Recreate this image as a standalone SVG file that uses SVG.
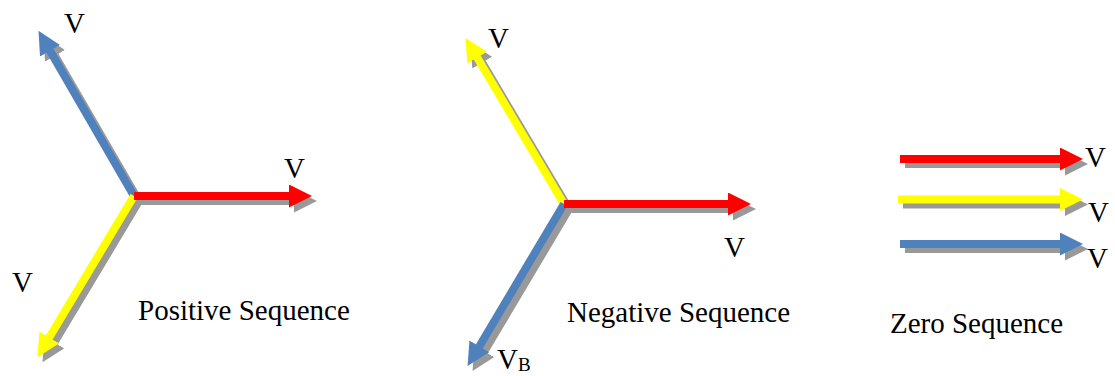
<svg xmlns="http://www.w3.org/2000/svg" width="1115" height="376" viewBox="0 0 1115 376">
  <style>
    .lbl { font-family: "Liberation Serif", "Times New Roman", serif; font-size: 29px; fill: #000; }
    .ttl { font-family: "Liberation Serif", "Times New Roman", serif; font-size: 29px; fill: #000; }
    .sub { font-family: "Liberation Serif", "Times New Roman", serif; font-size: 19px; fill: #000; }
    .r { stroke: #FF0000; stroke-width: 8; fill: none; marker-end: url(#hr); }
    .y { stroke: #FFFF00; stroke-width: 8; fill: none; marker-end: url(#hy); }
    .b { stroke: #4F81BD; stroke-width: 8; fill: none; marker-end: url(#hb); }
    .s { stroke: #999999; stroke-width: 8; fill: none; marker-end: url(#hs); }
  </style>
  <defs>
    <marker id="hr" viewBox="0 0 23 23" refX="1" refY="11.5" markerWidth="23" markerHeight="23" markerUnits="userSpaceOnUse" orient="auto"><path d="M0,0 L23,11.5 L0,23 Z" fill="#FF0000"/></marker>
    <marker id="hy" viewBox="0 0 23 23" refX="1" refY="11.5" markerWidth="23" markerHeight="23" markerUnits="userSpaceOnUse" orient="auto"><path d="M0,0 L23,11.5 L0,23 Z" fill="#FFFF00"/></marker>
    <marker id="hb" viewBox="0 0 23 23" refX="1" refY="11.5" markerWidth="23" markerHeight="23" markerUnits="userSpaceOnUse" orient="auto"><path d="M0,0 L23,11.5 L0,23 Z" fill="#4F81BD"/></marker>
    <marker id="hs" viewBox="0 0 23 23" refX="1" refY="11.5" markerWidth="23" markerHeight="23" markerUnits="userSpaceOnUse" orient="auto"><path d="M0,0 L23,11.5 L0,23 Z" fill="#999999"/></marker>
    <filter id="blur" x="-10%" y="-10%" width="120%" height="120%"><feGaussianBlur stdDeviation="0.5"/></filter>
  </defs>

  <g id="connectors">
    <g id="shadows" filter="url(#blur)" transform="translate(5,5)">
      <line class="s" x1="134" y1="196" x2="49.5" y2="49.9"/>
      <line class="s" x1="134" y1="196" x2="48.8" y2="338.3"/>
      <line class="s" x1="134" y1="196" x2="290" y2="196"/>
      <line class="s" x1="564" y1="204" x2="476.7" y2="56.8"/>
      <line class="s" x1="564" y1="204" x2="478.8" y2="347.2"/>
      <line class="s" x1="564" y1="204" x2="729" y2="204"/>
      <line class="s" x1="900" y1="159" x2="1061" y2="159"/>
      <line class="s" x1="898" y1="199.5" x2="1061" y2="199.5"/>
      <line class="s" x1="900" y1="244" x2="1061" y2="244"/>
    </g>
    <g id="positive-arrows">
      <line class="b" x1="134" y1="196" x2="49.5" y2="49.9"/>
      <line class="y" x1="134" y1="196" x2="48.8" y2="338.3"/>
      <line class="r" x1="134" y1="196" x2="290" y2="196"/>
    </g>
    <g id="negative-arrows">
      <line class="y" x1="564" y1="204" x2="476.7" y2="56.8"/>
      <line class="b" x1="564" y1="204" x2="478.8" y2="347.2"/>
      <line class="r" x1="564" y1="204" x2="729" y2="204"/>
    </g>
    <g id="zero-arrows">
      <line class="r" x1="900" y1="159" x2="1061" y2="159"/>
      <line class="y" x1="898" y1="199.5" x2="1061" y2="199.5"/>
      <line class="b" x1="900" y1="244" x2="1061" y2="244"/>
    </g>
  </g>

  <g id="positive-sequence">
    <text class="lbl" x="64" y="33">V</text>
    <text class="lbl" x="284" y="178">V</text>
    <text class="lbl" x="12" y="292">V</text>
    <text class="ttl" x="138" y="320">Positive Sequence</text>
  </g>

  <g id="negative-sequence">
    <text class="lbl" x="488" y="48">V</text>
    <text class="lbl" x="724" y="257">V</text>
    <text class="lbl" x="497" y="369">V<tspan class="sub" dy="2">B</tspan></text>
    <text class="ttl" x="567" y="322">Negative Sequence</text>
  </g>

  <g id="zero-sequence">
    <text class="lbl" x="1085" y="167">V</text>
    <text class="lbl" x="1088" y="222">V</text>
    <text class="lbl" x="1087" y="268">V</text>
    <text class="ttl" x="890" y="333">Zero Sequence</text>
  </g>
</svg>
